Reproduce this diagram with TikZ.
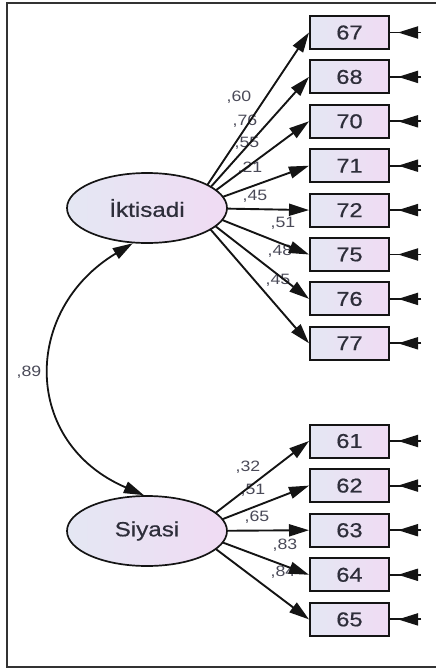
\documentclass[tikz,border=0pt]{standalone}
\usepackage{fontspec}
\setmainfont{Liberation Sans}[FakeStretch=1.18]
\newfontfamily\hvy{Liberation Sans}[FakeStretch=1.18,FakeBold=0.6]
\usetikzlibrary{arrows.meta,backgrounds,shapes.geometric}
\definecolor{fl}{HTML}{E4E7F3}
\definecolor{fr}{HTML}{F0DBF3}
\definecolor{ln}{HTML}{141414}
\definecolor{tx}{HTML}{2E2E3A}
\definecolor{lb}{HTML}{4A4A58}
\definecolor{bd}{HTML}{333333}
\begin{document}
\begin{tikzpicture}[x=1pt,y=-1pt,
  obs/.style={draw=ln, line width=2pt, left color=fl, right color=fr,
    minimum width=79pt, minimum height=33pt, inner sep=0pt, text=tx,
    font=\hvy\fontsize{20}{20}\selectfont},
  lat/.style={ellipse, draw=ln, line width=1.7pt, left color=fl, right color=fr,
    minimum width=160pt, minimum height=70pt, inner sep=0pt, text=tx,
    font=\hvy\fontsize{20.5}{21}\selectfont},
  tipstyle/.style={-{Triangle[length=20pt,width=12pt]}},
  load/.style={line width=1.9pt, draw=ln, tipstyle},
  err/.style={line width=1.9pt, draw=ln,
    postaction={draw=ln, tipstyle, shorten >=8pt}},
  coef/.style={text=lb, font=\fontsize{15}{15}\selectfont, inner sep=0pt},
  borderline/.style={line width=1.4pt, draw=bd}
]
\useasboundingbox (0,0) rectangle (436,669);
\draw[borderline] (436,3) -- (7,3) -- (7,667) -- (436,667);

% latent variables
\node[lat] (ik) at (147,208) {İktisadi};
\node[lat] (sy) at (147,531) {Siyasi};
\coordinate (ikc) at (192,208);
\coordinate (syc) at (192,531);

% observed boxes
\foreach \n [count=\i from 0] in {67,68,70,71,72,75,76,77}{
  \node[obs] (b\n) at (349.5,{32.5+44.4*\i}) {\n};
  \coordinate (e\n) at (421,{32.5+44.4*\i});
}
\foreach \n [count=\i from 0] in {61,62,63,64,65}{
  \node[obs] (b\n) at (349.5,{441+44.6*\i}) {\n};
  \coordinate (e\n) at (421,{441+44.6*\i});
}

\begin{pgfonlayer}{background}
  % coefficient labels
  \node[coef] (c67) at (239,97) {,60};
  \node[coef] (c68) at (245,121) {,76};
  \node[coef] (c70) at (247,143) {,55};
  \node[coef] (c71) at (250,168) {,21};
  \node[coef] (c72) at (255,196) {,45};
  \node[coef] (c75) at (283,223) {,51};
  \node[coef] (c76) at (280,251) {,48};
  \node[coef] (c77) at (278,280) {,45};
  \node[coef] (c61) at (248,467) {,32};
  \node[coef] (c62) at (253,490) {,51};
  \node[coef] (c63) at (257,517) {,65};
  \node[coef] (c64) at (285,545) {,83};
  \node[coef] (c65) at (283,572) {,84};
  \node[coef] (cr) at (29,372) {,89};
  % loadings
  \foreach \n in {67,68,70,71,72,75,76,77}{
    \draw[load] (ikc) -- (b\n.west);
  }
  \foreach \n in {61,62,63,64,65}{
    \draw[load] (syc) -- (b\n.west);
  }
\end{pgfonlayer}

% error arrows
\foreach \n in {67,68,70,71,72,75,76,77,61,62,63,64,65}{
  \draw[err] (e\n) -- (b\n.east);
}

% correlation
\draw[line width=1.8pt, draw=ln, {Triangle[length=20pt,width=12pt]}-{Triangle[length=20pt,width=12pt]}]
  (ik.248) .. controls (22,310) and (22,443) .. (sy.95);
\end{tikzpicture}
\end{document}
